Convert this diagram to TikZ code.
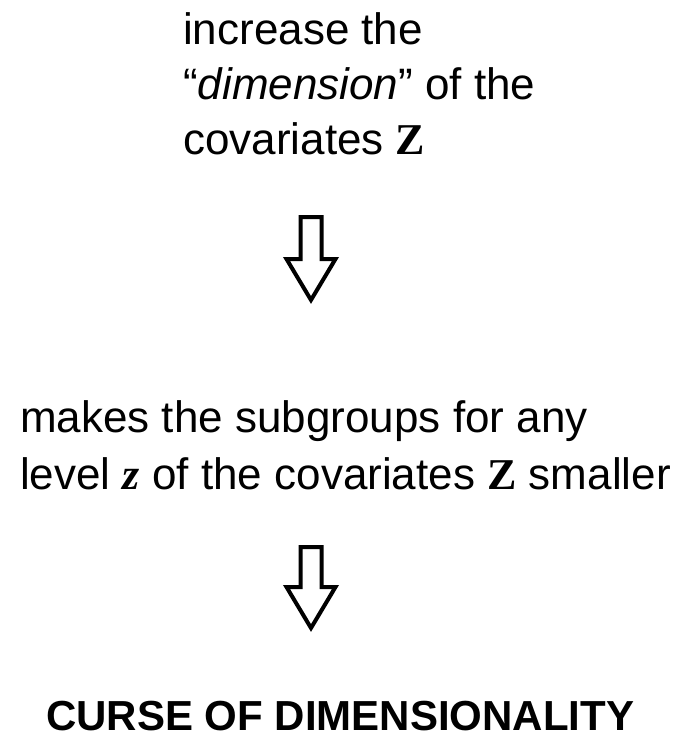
\documentclass[tikz,border=0pt]{standalone}
\usepackage{fontspec}
\setmainfont{Liberation Sans}
\newfontfamily\zfont{Liberation Serif}
\newcommand{\bZ}{{\zfont\bfseries Z}}
\newcommand{\bz}{{\zfont\bfseries\itshape z}}
\begin{document}
\begin{tikzpicture}[x=1pt,y=1pt,
  txt/.style={inner sep=0pt,anchor=base west,font=\fontsize{44}{52}\selectfont},
  title/.style={inner sep=0pt,anchor=base west,font=\fontsize{42}{50}\selectfont\bfseries},
  bigarrow/.style={draw=black,line width=4pt,line join=miter,fill=white}]
\useasboundingbox (0,0) rectangle (687,-748);
% block 1
\node[txt] (a1) at (183,-44) {increase the};
\node[txt] (a2) at (183,-99) {``\textit{dimension}'' of the};
\node[txt] (a3) at (183,-154) {covariates \bZ};
% arrow 1
\coordinate (arr1) at (311,-217);
\draw[bigarrow] (arr1) ++(-10.5,0) -- ++(0,-42) -- ++(-14,0) -- ++(24.5,-41) -- ++(24.5,41) -- ++(-14,0) -- ++(0,42) -- cycle;
% block 2
\node[txt] (b1) at (20,-432) {makes the subgroups for any};
\node[txt] (b2) at (20,-489) {level \bz\ of the covariates \bZ\ smaller};
% arrow 2
\coordinate (arr2) at (311,-547);
\draw[bigarrow] (arr2) ++(-10.5,0) -- ++(0,-40) -- ++(-14,0) -- ++(24.5,-41) -- ++(24.5,41) -- ++(-14,0) -- ++(0,40) -- cycle;
% block 3
\node[title] (c1) at (46,-730) {CURSE OF DIMENSIONALITY};
\end{tikzpicture}
\end{document}
